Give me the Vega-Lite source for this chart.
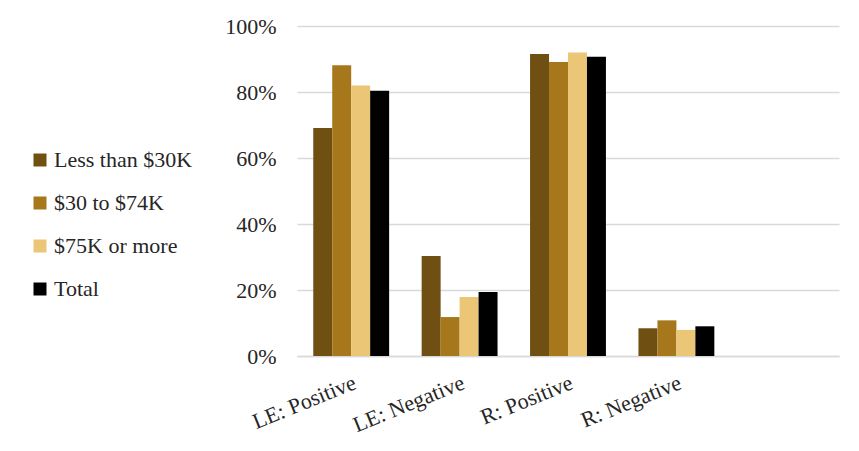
{
  "$schema": "https://vega.github.io/schema/vega-lite/v6.json",
  "autosize": "none",
  "width": 542,
  "height": 330,
  "padding": {"left": 297, "top": 26, "right": 20, "bottom": 95},
  "background": "white",
  "data": {"values": [
    {"cat": "LE: Positive", "grp": "Less than $30K", "v": 0.691},
    {"cat": "LE: Positive", "grp": "$30 to $74K", "v": 0.881},
    {"cat": "LE: Positive", "grp": "$75K or more", "v": 0.820},
    {"cat": "LE: Positive", "grp": "Total", "v": 0.804},
    {"cat": "LE: Negative", "grp": "Less than $30K", "v": 0.303},
    {"cat": "LE: Negative", "grp": "$30 to $74K", "v": 0.118},
    {"cat": "LE: Negative", "grp": "$75K or more", "v": 0.179},
    {"cat": "LE: Negative", "grp": "Total", "v": 0.194},
    {"cat": "R: Positive", "grp": "Less than $30K", "v": 0.915},
    {"cat": "R: Positive", "grp": "$30 to $74K", "v": 0.891},
    {"cat": "R: Positive", "grp": "$75K or more", "v": 0.920},
    {"cat": "R: Positive", "grp": "Total", "v": 0.907},
    {"cat": "R: Negative", "grp": "Less than $30K", "v": 0.084},
    {"cat": "R: Negative", "grp": "$30 to $74K", "v": 0.108},
    {"cat": "R: Negative", "grp": "$75K or more", "v": 0.079},
    {"cat": "R: Negative", "grp": "Total", "v": 0.090}
  ]},
  "mark": {"type": "bar"},
  "encoding": {
    "x": {
      "field": "cat", "type": "nominal",
      "scale": {"domain": ["LE: Positive", "LE: Negative", "R: Positive", "R: Negative", " "], "paddingInner": 0.3, "paddingOuter": 0.15},
      "axis": {"title": null, "labelAngle": -22, "labelAlign": "right", "labelBaseline": "top", "labelPadding": 16, "ticks": false, "domainColor": "#d9d9d9", "domainWidth": 1.5, "labelFont": "Liberation Serif", "labelFontSize": 22, "labelColor": "#262626"}
    },
    "xOffset": {"field": "grp", "type": "nominal", "sort": ["Less than $30K", "$30 to $74K", "$75K or more", "Total"]},
    "y": {
      "field": "v", "type": "quantitative",
      "scale": {"domain": [0, 1], "nice": false},
      "axis": {"title": null, "format": ".0%", "values": [0, 0.2, 0.4, 0.6, 0.8, 1], "ticks": false, "domain": false, "gridColor": "#d9d9d9", "gridWidth": 1.5, "labelPadding": 21, "labelFont": "Liberation Serif", "labelFontSize": 22, "labelColor": "#262626"}
    },
    "color": {
      "field": "grp", "type": "nominal",
      "sort": ["Less than $30K", "$30 to $74K", "$75K or more", "Total"],
      "scale": {"domain": ["Less than $30K", "$30 to $74K", "$75K or more", "Total"], "range": ["#6F4F12", "#A7781B", "#ECC677", "#000000"]},
      "legend": {"title": null, "orient": "none", "legendX": -268, "legendY": 123, "symbolType": "square", "symbolSize": 169, "symbolStrokeWidth": 0, "rowPadding": 21, "labelFont": "Liberation Serif", "labelFontSize": 22, "labelColor": "#262626", "labelOffset": 3}
    }
  },
  "config": {"view": {"stroke": null}}
}
